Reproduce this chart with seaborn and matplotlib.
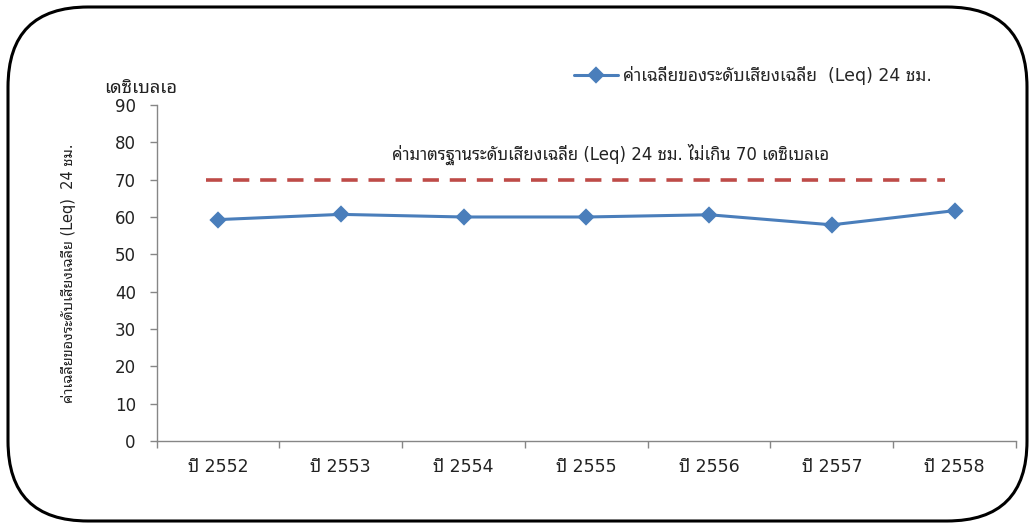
import matplotlib
matplotlib.use("Agg")
import matplotlib.pyplot as plt
import numpy as np
import pandas as pd
import seaborn as sns
from matplotlib.patches import FancyBboxPatch

# data
years = ["ปี 2552", "ปี 2553", "ปี 2554", "ปี 2555", "ปี 2556", "ปี 2557", "ปี 2558"]
leq_24h = [59.3, 60.7, 60.0, 60.0, 60.6, 57.9, 61.7]
standard_limit = 70
y_ticks = [0, 10, 20, 30, 40, 50, 60, 70, 80, 90]

series_label = "ค่าเฉลี่ยของระดับเสียงเฉลี่ย  (Leq) 24 ชม."
standard_label = "ค่ามาตรฐานระดับเสียงเฉลี่ย (Leq) 24 ชม. ไม่เกิน 70 เดซิเบลเอ"
unit_label = "เดซิเบลเอ"
y_label = "ค่าเฉลี่ยของระดับเสียงเฉลี่ย (Leq)  24 ชม."

BLUE = "#4A7EBB"
RED = "#BE4B48"
AXIS = "#868686"
TEXT = "#222222"

sns.set_theme(style="white")
# Latin glyphs from DejaVu, Thai glyphs fall through to the looped Noto face
plt.rcParams["font.family"] = ["DejaVu Sans", "Noto Sans Thai Looped"]

df = pd.DataFrame({"year": years, "leq": leq_24h})

fig = plt.figure(figsize=(10.35, 5.26), dpi=100)
ax = fig.add_axes([0.1513, 0.1616, 0.8304, 0.6388])

# rounded frame around the whole chart
frame = FancyBboxPatch((0.08, 0.05), 10.19, 5.14,
                       boxstyle="round,pad=0,rounding_size=0.8",
                       transform=fig.dpi_scale_trans, fill=False,
                       edgecolor="black", linewidth=2.2, zorder=0)
fig.patches.append(frame)

ax.hlines(standard_limit, -0.1, 5.92, colors=RED, linestyles=(0, (4.5, 3)),
          linewidth=2.6, zorder=2)

sns.pointplot(data=df, x="year", y="leq", color=BLUE, marker="D",
              markersize=7.5, linewidth=2.2, errorbar=None, label=series_label,
              ax=ax, zorder=3)

ax.set_xlim(-0.5, len(years) - 0.5)
ax.set_ylim(0, 90)
ax.set_yticks(y_ticks)
ax.set_xticks(np.arange(len(years)))
ax.set_xticklabels(years)
ax.set_xticks(np.arange(len(years) + 1) - 0.5, minor=True)

for side in ["top", "right"]:
    ax.spines[side].set_visible(False)
for side in ["left", "bottom"]:
    ax.spines[side].set_color(AXIS)
    ax.spines[side].set_linewidth(1.0)

ax.tick_params(axis="y", which="major", direction="out", length=5, width=1,
               color=AXIS, labelsize=12, labelcolor=TEXT, pad=10, left=True)
ax.tick_params(axis="x", which="major", length=0, labelsize=12.5,
               labelcolor=TEXT, pad=12)
ax.tick_params(axis="x", which="minor", direction="out", length=5, width=1,
               color=AXIS, bottom=True)

ax.set_xlabel("")
ax.set_ylabel(y_label, fontsize=10.5, color=TEXT)
ax.yaxis.set_label_coords(-0.094, 0.5)

ax.text(-0.019, 1.05, unit_label, transform=ax.transAxes, ha="center",
        va="center", fontsize=13, color=TEXT)
ax.text(3.2, 76.7, standard_label, ha="center", va="center", fontsize=12,
        color=TEXT)

ax.legend(loc="center left", bbox_to_anchor=(0.478, 1.089), frameon=False,
          fontsize=12.5, handlelength=2.5, handletextpad=0.3, borderaxespad=0)

fig.savefig("out.png", dpi=100)
